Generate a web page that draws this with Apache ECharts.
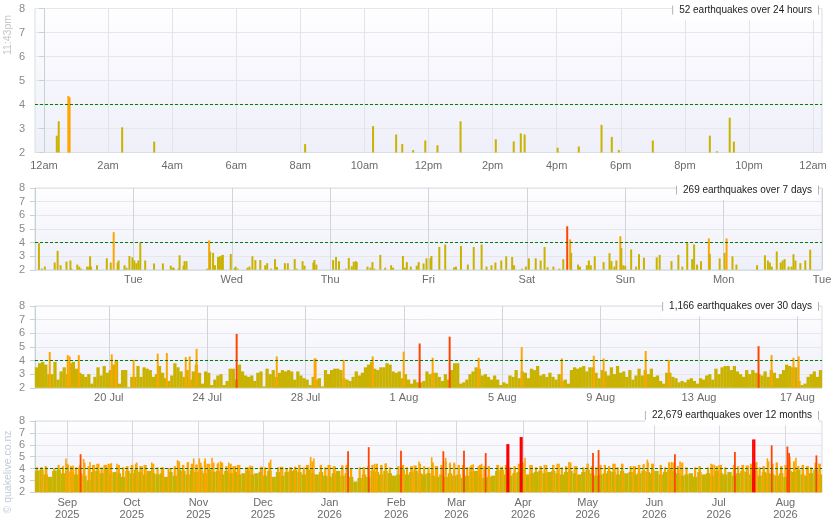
<!DOCTYPE html>
<html><head><meta charset="utf-8">
<script src="https://cdn.jsdelivr.net/npm/echarts@6/dist/echarts.min.js"></script>
<style>html,body{margin:0;padding:0;background:#fff}#c{width:835px;height:530px}</style>
</head><body><div id="c"></div>
<script>
// ---------- Panel 1: last 24 hours (x = hours after midnight) ----------
const p1Hours = [0.40,0.46,0.76,0.80,2.44,3.44,8.15,10.27,10.99,11.18,11.52,11.90,12.28,13.00,14.10,14.66,14.88,15.00,16.03,16.69,17.40,17.72,17.94,19.00,20.78,21.00,21.40,21.53];
const p1Mags  = [2.7,3.3,4.35,4.3,3.05,2.45,2.35,3.1,2.75,2.35,2.1,2.5,2.3,3.3,2.55,2.46,2.8,2.75,2.2,2.25,3.15,2.65,2.1,2.5,2.7,2.05,3.45,2.45];
const p1TickValues = [0,2,4,6,8,10,12,14,16,18,20,22,24];
const p1TickLabels = ['12am','2am','4am','6am','8am','10am','12pm','2pm','4pm','6pm','8pm','10pm','12am'];

// ---------- Panel 2: last 7 days (x = days after Monday 00:00) ----------
const p2Days = [0.04,0.07,0.10,0.20,0.23,0.26,0.32,0.36,0.37,0.43,0.45,0.47,0.53,0.55,0.56,0.57,0.63,0.73,0.77,0.80,0.84,0.85,0.91,0.93,0.96,0.99,1.01,1.03,1.05,1.07,1.12,1.21,1.30,1.38,1.40,1.41,1.46,1.47,1.51,1.52,1.54,1.75,1.77,1.78,1.81,1.83,1.86,1.88,1.90,1.91,1.99,2.03,2.04,2.06,2.16,2.18,2.21,2.24,2.29,2.34,2.36,2.40,2.44,2.46,2.54,2.57,2.64,2.66,2.72,2.74,2.83,2.84,2.86,3.03,3.06,3.09,3.16,3.19,3.22,3.24,3.26,3.27,3.38,3.41,3.43,3.45,3.51,3.56,3.62,3.64,3.74,3.76,3.78,3.82,3.88,3.90,3.95,3.98,4.02,4.03,4.11,4.17,4.26,4.28,4.33,4.40,4.46,4.54,4.59,4.64,4.68,4.74,4.79,4.85,4.87,4.95,4.99,5.02,5.09,5.14,5.18,5.21,5.27,5.33,5.37,5.41,5.44,5.45,5.52,5.54,5.61,5.63,5.65,5.69,5.78,5.84,5.86,5.89,5.91,5.95,5.96,5.98,6.00,6.06,6.11,6.14,6.19,6.32,6.35,6.47,6.54,6.58,6.63,6.68,6.70,6.73,6.77,6.85,6.86,6.96,7.01,7.03,7.09,7.13,7.34,7.42,7.45,7.47,7.49,7.54,7.58,7.60,7.62,7.66,7.69,7.71,7.73,7.78,7.83,7.88];
const p2Mags = [3.95,2.08,2.23,2.53,3.39,2.33,2.6,2.68,2.08,2.38,2.23,2.08,2.23,2.23,2.99,2.23,2.33,2.84,2.53,4.76,2.53,2.68,2.33,2.15,3.01,2.91,2.68,2.48,2.68,3.98,2.68,2.46,2.46,2.3,2.15,2.15,2.08,3.06,2.3,2.63,2.63,2.08,4.15,3.32,3.24,2.33,2.94,2.99,3.06,3.09,3.16,2.13,2.23,2.08,2.15,2.23,2.99,2.71,2.71,2.33,2.48,2.08,2.78,2.2,2.48,2.48,2.78,2.08,2.63,2.3,2.53,2.71,2.38,2.71,2.94,2.63,2.08,2.86,2.25,2.58,2.63,2.56,2.23,2.15,2.56,2.08,3.09,2.15,2.33,2.15,3.01,2.15,2.56,2.23,2.3,2.56,2.46,2.84,2.84,3.01,3.67,3.85,2.18,2.23,3.75,2.38,3.67,3.85,2.23,2.33,2.53,2.68,2.99,2.94,2.33,2.08,2.23,2.84,2.84,2.68,3.67,2.18,2.23,2.08,2.78,5.19,4.23,3.24,2.38,2.23,2.33,2.68,2.33,2.99,2.56,3.22,2.63,2.23,2.68,4.46,3.6,2.33,2.28,3.49,2.23,3.14,2.89,2.91,3.09,2.63,3.09,2.23,3.99,2.78,3.85,2.38,2.63,4.3,3.16,2.84,3.24,4.3,2.99,2.38,2.33,3.06,2.68,2.53,2.23,3.34,2.53,2.68,2.78,2.23,2.23,3.14,2.68,2.48,2.68,3.47];
const p2TickValues = [1,2,3,4,5,6,7,8];
const p2TickLabels = ['Tue','Wed','Thu','Fri','Sat','Sun','Mon','Tue'];

// ---------- Panel 3: last 30 days (x = days after 17 Jul 00:00) ----------
// largest magnitude below 4 in each 3-hour slot
const p3SlotMags = [3.5,3.8,3.9,3.7,3.0,3.0,3.9,2.6,3.2,3.5,3.0,3.8,3.9,3.4,3.1,3.0,2.8,3.0,2.3,2.8,3.5,2.9,3.6,3.1,3.3,3.7,3.95,2.3,3.3,3.3,2.05,2.8,2.8,3.6,2.8,3.5,3.4,3.3,2.8,3.0,3.6,3.1,2.7,2.5,2.9,3.8,3.5,3.2,2.8,3.3,2.6,3.2,3.7,3.1,2.3,3.2,3.1,2.2,2.6,2.9,3.0,2.2,2.5,3.4,3.4,2.6,3.7,3.2,2.9,2.8,2.9,2.5,3.1,3.2,2.1,3.4,3.0,3.3,2.8,3.1,3.3,3.2,3.3,3.2,2.6,3.2,2.9,2.7,2.6,2.2,2.8,2.6,2.7,2.1,3.3,3.0,3.3,3.4,3.4,3.3,2.7,2.6,2.5,2.8,3.2,2.9,3.1,3.5,3.7,3.9,3.4,3.3,3.5,3.5,3.8,3.7,3.2,3.1,3.2,2.7,3.0,2.6,2.3,2.6,2.4,2.4,2.5,3.2,3.0,3.1,3.1,2.8,2.5,3.0,2.6,3.3,3.8,3.8,2.3,2.4,2.6,3.0,3.2,3.5,3.4,2.9,3.0,2.8,2.6,2.9,2.6,2.2,2.4,2.3,2.9,2.8,3.3,2.7,3.2,3.1,2.7,3.4,3.3,3.6,2.9,3.0,2.8,3.1,2.8,2.6,3.0,2.5,2.6,2.3,3.3,3.5,3.4,3.5,3.6,3.2,3.5,3.5,3.1,2.7,3.3,3.2,2.9,3.5,3.0,3.6,3.1,3.2,2.8,3.3,2.6,2.9,3.4,2.9,3.3,3.0,3.4,2.8,2.9,2.5,2.3,3.1,3.1,2.8,2.7,2.4,2.5,2.4,2.6,2.7,2.5,2.3,2.7,2.6,2.9,3.0,2.6,3.4,3.0,3.5,3.6,3.6,3.3,3.6,3.2,3.0,2.8,3.3,3.0,3.3,3.1,3.0,2.9,3.2,2.8,3.3,3.1,2.7,3.0,3.3,3.7,3.6,3.5,3.5,2.5,2.2,2.3,2.8,3.0,3.2,2.8,3.3];
const p3BigDays = [0.60,1.33,1.41,1.78,3.12,3.28,4.01,4.99,5.36,6.13,6.29,6.57,8.20,9.83,11.37,11.41,12.55,13.73,14.99,15.64,16.17,16.86,18.04,19.79,21.42,22.72,23.12,24.83,25.77,29.42,29.95,30.84,31.05];
const p3BigMags = [4.62,4.4,4.3,4.4,4.45,4.05,4.05,4.5,4.55,4.25,4.3,4.85,5.95,4.3,4.15,4.15,4.05,4.3,4.65,5.25,4.2,5.75,4.2,4.98,4.15,4.35,4.15,4.7,4.05,5.05,4.4,4.2,4.3];
const p3TickValues = [3,7,11,15,19,23,27,31];
const p3TickLabels = ['20 Jul','24 Jul','28 Jul','1 Aug','5 Aug','9 Aug','13 Aug','17 Aug'];

// ---------- Panel 4: last 12 months (x = days after 17 Aug 2025) ----------
// largest magnitude below 4 in each 2-day slot
const p4SlotMags = [3.8,3.9,3.5,3.3,3.8,3.9,3.6,3.8,3.7,3.5,3.6,3.4,3.0,3.7,3.8,3.6,3.9,3.5,3.7,3.6,3.3,3.8,3.6,3.9,3.7,3.5,3.8,3.6,3.5,3.6,3.3,3.7,3.4,3.9,3.8,3.5,3.9,3.7,3.8,3.6,3.9,3.7,3.8,3.5,3.8,3.6,3.7,3.5,3.6,3.8,3.5,3.6,3.7,3.4,3.8,3.3,3.7,3.4,3.7,3.8,3.9,3.7,3.5,3.9,3.6,3.5,3.7,3.4,3.3,3.6,3.8,3.4,3.6,3.3,2.9,3.2,3.5,3.3,3.8,3.7,3.5,3.8,3.6,3.4,3.5,3.9,3.5,3.7,3.8,3.6,3.5,3.6,3.4,3.3,3.5,3.3,3.6,3.4,3.5,3.2,3.4,3.7,3.8,3.5,3.2,3.3,3.4,3.8,3.9,3.5,3.4,3.6,3.7,3.9,3.5,3.6,3.7,3.8,3.6,3.7,3.8,3.6,3.5,3.7,3.8,3.6,3.5,3.7,3.9,3.6,3.4,3.5,3.6,3.8,3.7,3.5,3.8,3.6,3.7,3.5,3.6,3.8,3.7,3.6,3.8,3.5,3.7,3.9,3.8,3.6,3.4,3.5,3.6,3.3,3.7,3.5,3.6,3.4,3.8,3.6,3.5,3.7,3.4,3.6,3.8,3.7,3.5,3.8,3.4,3.7,3.6,3.5,3.4,3.6,3.3,3.8,3.7,3.9,3.5,3.4,3.6,3.9,3.5];
// typical magnitude 4+ event in each 2-day slot (null = none)
const p4SlotM4 = [4.1,4.1,4.2,null,4.0,4.3,4.2,4.4,4.2,4.1,4.3,4.5,4.2,4.3,4.4,4.1,4.3,4.4,null,4.3,4.1,4.2,4.3,4.4,4.2,4.3,null,4.4,4.1,4.1,null,4.05,4.2,4.6,4.3,4.5,4.4,4.3,4.5,4.6,4.4,4.5,4.4,4.5,4.2,4.4,4.2,4.3,null,4.1,4.2,null,4.15,4.1,4.5,null,4.1,4.15,4.0,4.1,4.15,4.3,4.1,4.3,4.6,null,4.3,4.1,4.3,4.2,null,4.25,4.3,4.0,null,4.1,4.1,4.2,4.3,4.4,4.3,4.4,4.1,null,4.2,4.3,4.1,4.2,4.25,4.4,4.2,4.1,4.5,4.2,4.3,4.6,4.4,4.4,4.3,4.3,4.1,4.3,null,4.3,4.2,4.2,null,4.3,4.15,4.3,4.1,4.2,4.4,4.5,null,4.3,4.1,4.2,4.3,null,4.3,4.4,4.1,4.2,4.5,4.2,null,4.1,4.4,4.2,4.1,4.3,4.3,4.2,4.4,4.1,4.4,null,4.2,4.2,4.3,4.35,4.5,4.4,null,4.3,4.1,4.5,4.5,4.2,4.5,4.1,null,4.1,4.2,null,4.1,4.35,4.2,4.3,4.1,null,4.3,4.2,4.3,4.25,4.4,4.5,4.1,4.2,4.6,4.4,4.5,4.2,4.3,4.5,4.6,4.2,4.3,4.2,4.1,4.5,4.4];
const p4BigDays = [3.1,5.4,14.4,15.5,16.7,17.7,20.3,21.2,22.6,25.6,27.6,29.6,32.2,34.1,35.5,38.1,42.6,45.4,47.3,49.8,51.6,54.3,59.7,62.0,66.3,68.7,71.3,73.8,75.2,76.4,77.5,79.1,80.1,82.3,85.3,86.3,90.1,92.2,94.2,98.1,100.0,105.7,109.6,114.2,118.6,120.9,122.9,126.3,128.2,129.7,132.8,136.4,139.5,142.8,144.9,145.6,152.7,155.2,156.9,158.0,158.9,161.2,163.2,170.2,171.3,175.3,176.4,178.6,179.0,184.5,186.3,189.9,191.0,193.0,195.0,197.2,199.5,202.3,203.8,206.2,207.7,209.6,211.1,215.5,217.3,219.6,220.2,223.2,225.8,226.4,227.9,230.2,235.3,237.9,241.1,243.7,248.3,251.9,257.0,259.5,262.1,265.1,266.9,269.7,273.3,278.3,280.7,283.1,284.8,287.5,291.0,294.8,296.1,297.6,300.0,309.3,314.4,315.9,318.1,325.5,329.4,331.7,333.9,334.6,335.6,338.7,340.6,342.6,344.9,347.2,349.9,350.7,351.1,353.9,357.3,359.6,363.4,364.6];
const p4BigMags = [4.1,4.1,4.85,4.3,4.2,4.25,4.1,5.2,4.8,4.55,4.3,4.4,4.3,4.4,4.45,4.4,4.15,4.3,4.5,4.2,4.3,4.5,4.1,4.05,4.7,4.3,4.55,4.85,4.35,4.85,4.2,4.85,4.4,4.9,4.5,4.6,4.5,4.2,4.3,4.1,4.25,4.15,4.75,4.15,4.1,4.15,4.3,4.3,4.98,4.85,4.3,4.3,4.2,4.25,4.3,5.45,4.1,5.8,4.3,4.4,4.2,4.3,4.45,5.5,4.3,4.2,4.25,4.6,4.2,4.95,4.2,5.45,4.9,4.5,4.5,4.3,5.5,4.15,4.35,4.2,4.4,5.3,4.2,4.3,4.15,6.05,6.05,4.2,6.65,6.65,4.9,4.3,4.2,4.3,4.3,4.4,4.55,4.2,4.4,5.3,5.55,4.3,4.2,4.4,4.4,4.2,4.3,4.35,4.75,4.4,4.3,4.5,4.55,5.2,4.6,4.2,4.4,4.3,4.3,5.4,4.3,4.25,6.45,6.45,4.55,4.2,4.85,5.95,4.5,4.2,5.85,5.3,4.98,4.9,4.3,4.2,5.1,4.4];
const p4TickValues = [15,45,76,106,137,168,196,227,257,288,318,349];
const p4TickLabels = ['Sep\n2025','Oct\n2025','Nov\n2025','Dec\n2025','Jan\n2026','Feb\n2026','Mar\n2026','Apr\n2026','May\n2026','Jun\n2026','Jul\n2026','Aug\n2026'];

const panelTitles = ['52 earthquakes over 24 hours','269 earthquakes over 7 days','1,166 earthquakes over 30 days','22,679 earthquakes over 12 months'];
const thresholdMag = 4;

// ---------- build ----------
const FONT = 'Liberation Sans, Arial, sans-serif';
function magColor(m){ return m >= 6 ? '#ff0000' : m >= 5 ? '#ff4500' : m >= 4 ? '#ffa500' : '#c9b300'; }
function pairs(xs, ys){ const out=[]; xs.forEach((x,i)=>{ if (ys[i] != null) out.push([x, ys[i]]); }); return out; }
function slots(vals, slotLen){ const out=[]; vals.forEach((v,i)=>{ if (v != null) out.push([(i+0.5)*slotLen, v]); }); return out; }
function bars(gi, data, w, z){
  return {type:'custom', xAxisIndex:gi, yAxisIndex:gi, data:data, z:z, silent:true, animation:false,
    encode:{x:0, y:1},
    renderItem:function(params, api){
      const x = api.value(0), y = api.value(1);
      const top = api.coord([x, y]); const base = api.coord([x, 2]);
      return {type:'rect', shape:{x: top[0]-w/2, y: top[1], width: w, height: base[1]-top[1]}, style:{fill: magColor(y)}};
    }};
}

const gridDefs = [{top:8.5,height:144},{top:188,height:81.75},{top:306,height:81.75},{top:421,height:71.25}];
const bg = {type:'linear', x:0, y:0, x2:0, y2:1, colorStops:[{offset:0,color:'#fefeff'},{offset:1,color:'#eeeff9'}]};
const grids = gridDefs.map(g => ({left:35, right:13, top:g.top, height:g.height, show:true, backgroundColor:bg, borderColor:'#d6dfe1', borderWidth:1}));

const xDefs = [
  {min:-0.28, max:24.28, ticks:p1TickValues, labels:p1TickLabels, margin:7, split:'#e3e3ea'},
  {min:0, max:8, ticks:p2TickValues, labels:p2TickLabels, margin:4, split:'#d3d3da'},
  {min:0, max:32, ticks:p3TickValues, labels:p3TickLabels, margin:4, split:'#d3d3da'},
  {min:0, max:366, ticks:p4TickValues, labels:p4TickLabels, margin:5, split:'#d8d8e0'}
];
function threshold(gi){
  const d = xDefs[gi];
  return {type:'line', xAxisIndex:gi, yAxisIndex:gi, z:10, silent:true, animation:false, symbol:'none',
    data:[[d.min, thresholdMag],[d.max, thresholdMag]],
    itemStyle:{color:'#008000'},
    lineStyle:{color:'#008000', type:[3,2], width:1, opacity:1}};
}
const xAxes = xDefs.map((d,i) => ({
  type:'value', gridIndex:i, min:d.min, max:d.max,
  axisLine:{show:true, lineStyle:{color:'#d9e0e4'}},
  axisTick:{show:false, customValues:d.ticks},
  axisLabel:{customValues:d.ticks, color:'#6b6b6b', fontSize:11, fontFamily:FONT, margin:d.margin, lineHeight:12,
    formatter:function(v){ const k = d.ticks.indexOf(v); return k >= 0 ? d.labels[k] : ''; }},
  splitLine:{show:true, lineStyle:{color:d.split, width:1}}
}));
const yAxes = [0,1,2,3].map(i => ({
  type:'value', gridIndex:i, min:2, max:8, interval:1,
  axisLine:{show:true, lineStyle:{color:'#c6d3d5'}},
  axisTick:{show:true, length:5, lineStyle:{color:'#c6d3d5'}},
  axisLabel:{color:'#8a8a8a', fontSize:11, fontFamily:FONT, margin:10},
  splitLine:{show:true, lineStyle:{color:'#e6e6ee'}}
}));

const p4Big = pairs(p4BigDays, p4BigMags);
const series = [
  bars(0, pairs(p1Hours, p1Mags), 2, 2), threshold(0),
  bars(1, pairs(p2Days, p2Mags), 2, 2), threshold(1),
  bars(2, slots(p3SlotMags, 1/8), 3.3, 2), bars(2, pairs(p3BigDays, p3BigMags), 2, 3), threshold(2),
  bars(3, slots(p4SlotM4, 2), 2.2, 2),
  bars(3, slots(p4SlotMags, 2), 4.4, 3),
  bars(3, p4Big.filter(d => d[1] < 5), 1.6, 4),
  bars(3, p4Big.filter(d => d[1] >= 5), 1.8, 5),
  threshold(3)
];

const titleTops = [2.5, 182.5, 299, 408];
const titles = panelTitles.map((t,i) => ({
  text:'{b|}{t|' + t + '}{b|}', right:16, top:titleTops[i], padding:[1,0], backgroundColor:'#fff',
  textStyle:{fontWeight:'normal', rich:{
    b:{width:1, height:9, backgroundColor:'#b4b4b4', verticalAlign:'middle'},
    t:{fontSize:10, fontWeight:'normal', color:'#222', fontFamily:FONT, padding:[0,6], verticalAlign:'middle', lineHeight:13}
  }}
}));

const chart = echarts.init(document.getElementById('c'));
chart.setOption({
  animation:false,
  textStyle:{fontFamily:FONT},
  title:titles,
  grid:grids, xAxis:xAxes, yAxis:yAxes, series:series,
  graphic:[
    {type:'text', x:8, y:35, rotation:Math.PI/2, style:{text:'11:43pm', fill:'#c4c4c4', font:'10.5px Liberation Sans', align:'center', verticalAlign:'middle'}},
    {type:'text', x:8, y:472, rotation:Math.PI/2, style:{text:'© quakelive.co.nz', fill:'#c3cad4', font:'10.5px Liberation Sans', align:'center', verticalAlign:'middle'}}
  ]
});
</script></body></html>
